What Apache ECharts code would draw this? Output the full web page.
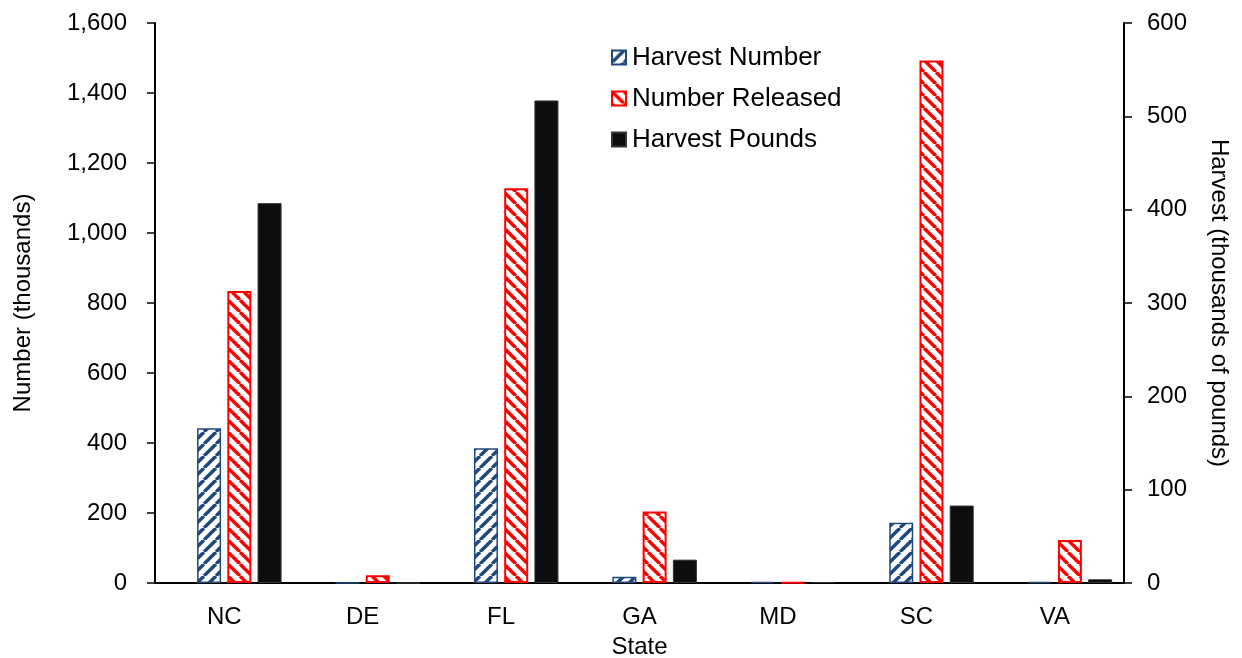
<!DOCTYPE html>
<html>
<head>
<meta charset="utf-8">
<script src="https://cdn.jsdelivr.net/npm/echarts@6/dist/echarts.min.js"></script>
<style>
  html, body { margin: 0; padding: 0; background: #fff; }
  #chart { width: 1242px; height: 658px; }
</style>
</head>
<body>
<div id="chart"></div>
<script>
// data
const states = ['NC', 'DE', 'FL', 'GA', 'MD', 'SC', 'VA'];
const harvestNumber = [442, 0, 385, 18, 3, 172, 3];      // thousands (left axis)
const numberReleased = [834, 22, 1128, 204, 1, 1493, 123]; // thousands (left axis)
const harvestPounds = [407, 0, 517, 25, 1, 83, 4];       // thousands of pounds (right axis)

const font = 'Liberation Sans, Arial, sans-serif';

// diagonal hatch tile, dir 1 = "/", dir -1 = "\"
function hatch(color, dir) {
  const s = 12;
  const c = document.createElement('canvas');
  c.width = s; c.height = s;
  const ctx = c.getContext('2d');
  ctx.fillStyle = '#fff';
  ctx.fillRect(0, 0, s, s);
  ctx.strokeStyle = color;
  ctx.lineWidth = 3.4;
  for (let k = -s; k <= s; k += s) {
    ctx.beginPath();
    if (dir > 0) {
      ctx.moveTo(k, s); ctx.lineTo(k + s, 0);
    } else {
      ctx.moveTo(k, 0); ctx.lineTo(k + s, s);
    }
    ctx.stroke();
  }
  return { image: c, repeat: 'repeat' };
}

const chart = echarts.init(document.getElementById('chart'));

const barW = 24;

chart.setOption({
  animation: false,
  backgroundColor: '#fff',
  textStyle: { fontFamily: font, color: '#000' },
  grid: { left: 155, right: 118, top: 23, bottom: 75, containLabel: false, outerBoundsMode: 'none' },
  legend: {
    data: ['Harvest Number', 'Number Released', 'Harvest Pounds'],
    orient: 'vertical',
    left: 606,
    top: 38,
    icon: 'rect',
    itemWidth: 14,
    itemHeight: 14,
    itemGap: 12,
    textStyle: { fontFamily: font, fontSize: 26, color: '#000', lineHeight: 29, padding: [0, 0, 0, 1] }
  },
  xAxis: {
    type: 'category',
    data: states,
    name: 'State',
    nameLocation: 'middle',
    nameGap: 52,
    nameTextStyle: { fontFamily: font, fontSize: 24, color: '#000' },
    axisLine: { lineStyle: { color: '#000', width: 2 } },
    axisTick: { length: 8, lineStyle: { color: '#000', width: 1.5 } },
    axisLabel: { fontFamily: font, fontSize: 24, color: '#000', margin: 22 }
  },
  yAxis: [{
    type: 'value',
    min: 0, max: 1600, interval: 200,
    name: 'Number (thousands)',
    nameLocation: 'middle',
    nameGap: 120,
    nameTextStyle: { fontFamily: font, fontSize: 24, color: '#000' },
    axisLine: { show: true, lineStyle: { color: '#000', width: 2 } },
    axisTick: { show: true, length: 8, lineStyle: { color: '#000', width: 1.5 } },
    axisLabel: { fontFamily: font, fontSize: 24, color: '#000', margin: 28 },
    splitLine: { show: false }
  }, {
    type: 'value',
    position: 'right',
    min: 0, max: 600, interval: 100,
    name: 'Harvest (thousands of pounds)',
    nameLocation: 'middle',
    nameRotate: -90,
    nameGap: 83,
    nameTextStyle: { fontFamily: font, fontSize: 24, color: '#000' },
    axisLine: { show: true, lineStyle: { color: '#000', width: 2 } },
    axisTick: { show: true, length: 8, lineStyle: { color: '#000', width: 1.5 } },
    axisLabel: { fontFamily: font, fontSize: 24, color: '#000', margin: 23 },
    splitLine: { show: false }
  }],
  series: [{
    // empty slot so the three bars sit like in the original
    name: 'spacer',
    type: 'bar',
    data: [],
    barWidth: barW,
    barGap: '26%'
  }, {
    name: 'Harvest Number',
    type: 'bar',
    data: harvestNumber,
    barWidth: barW,
    barGap: '26%',
    itemStyle: { color: hatch('#1F497D', 1), borderColor: '#1F497D', borderWidth: 1.5 }
  }, {
    name: 'Number Released',
    type: 'bar',
    data: numberReleased,
    barWidth: barW,
    barGap: '26%',
    itemStyle: { color: hatch('#FF0000', -1), borderColor: '#FF0000', borderWidth: 2 }
  }, {
    name: 'Harvest Pounds',
    type: 'bar',
    yAxisIndex: 1,
    data: harvestPounds,
    barWidth: barW,
    barGap: '26%',
    itemStyle: { color: '#0D0D0D', borderColor: '#333', borderWidth: 1 }
  }]
});
</script>
</body>
</html>
